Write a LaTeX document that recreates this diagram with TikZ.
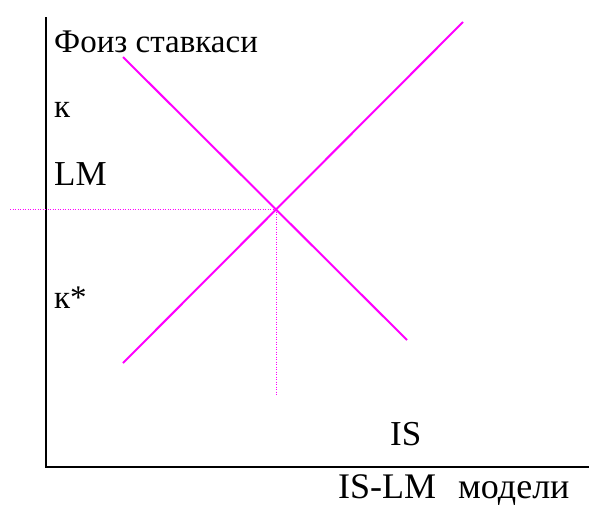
\documentclass[tikz,border=0pt]{standalone}
\usepackage{fontspec}
\setmainfont{Liberation Serif}
\definecolor{curvecol}{RGB}{255,0,255}
\begin{document}
\begin{tikzpicture}[x=1pt,y=-1pt,
  curve/.style={draw=curvecol,line width=2pt},
  guide/.style={draw=curvecol,line width=1pt,dash pattern=on 1pt off 1.5pt},
  axisline/.style={draw=black,line width=2.5pt},
  lbl/.style={anchor=base west,inner sep=0pt,font=\fontsize{35}{40}\selectfont},
  cyr/.style={anchor=base west,inner sep=0pt,font=\fontsize{33}{40}\selectfont}]
\useasboundingbox (0,0) rectangle (589,507);
\coordinate (ytop) at (46,17);
\coordinate (origin) at (46,467);
\coordinate (xend) at (589,467);
\draw[axisline] (ytop) -- (origin) -- (xend);
\coordinate (lm1) at (123,363);
\coordinate (lm2) at (463,22);
\coordinate (is1) at (123,57);
\coordinate (is2) at (407,340);
\draw[curve] (lm1) -- (lm2);
\draw[curve] (is1) -- (is2);
\coordinate (eq) at (276,209);
\coordinate (gl) at (10,209);
\coordinate (gb) at (276,395);
\draw[guide] (gl) -- (eq);
\draw[guide] (eq) -- (gb);
\node[cyr] (ylab) at (54,52) {Фоиз ставкаси};
\node[cyr] (k) at (54,117) {к};
\node[lbl] (lm) at (54,185) {LM};
\node[cyr] (ks) at (54,308) {к*};
\node[lbl] (is) at (390,445) {IS};
\node[lbl,font=\fontsize{36}{40}\selectfont] (xlab) at (338,498) {IS-LM\hspace{22pt}модели};
\end{tikzpicture}
\end{document}
